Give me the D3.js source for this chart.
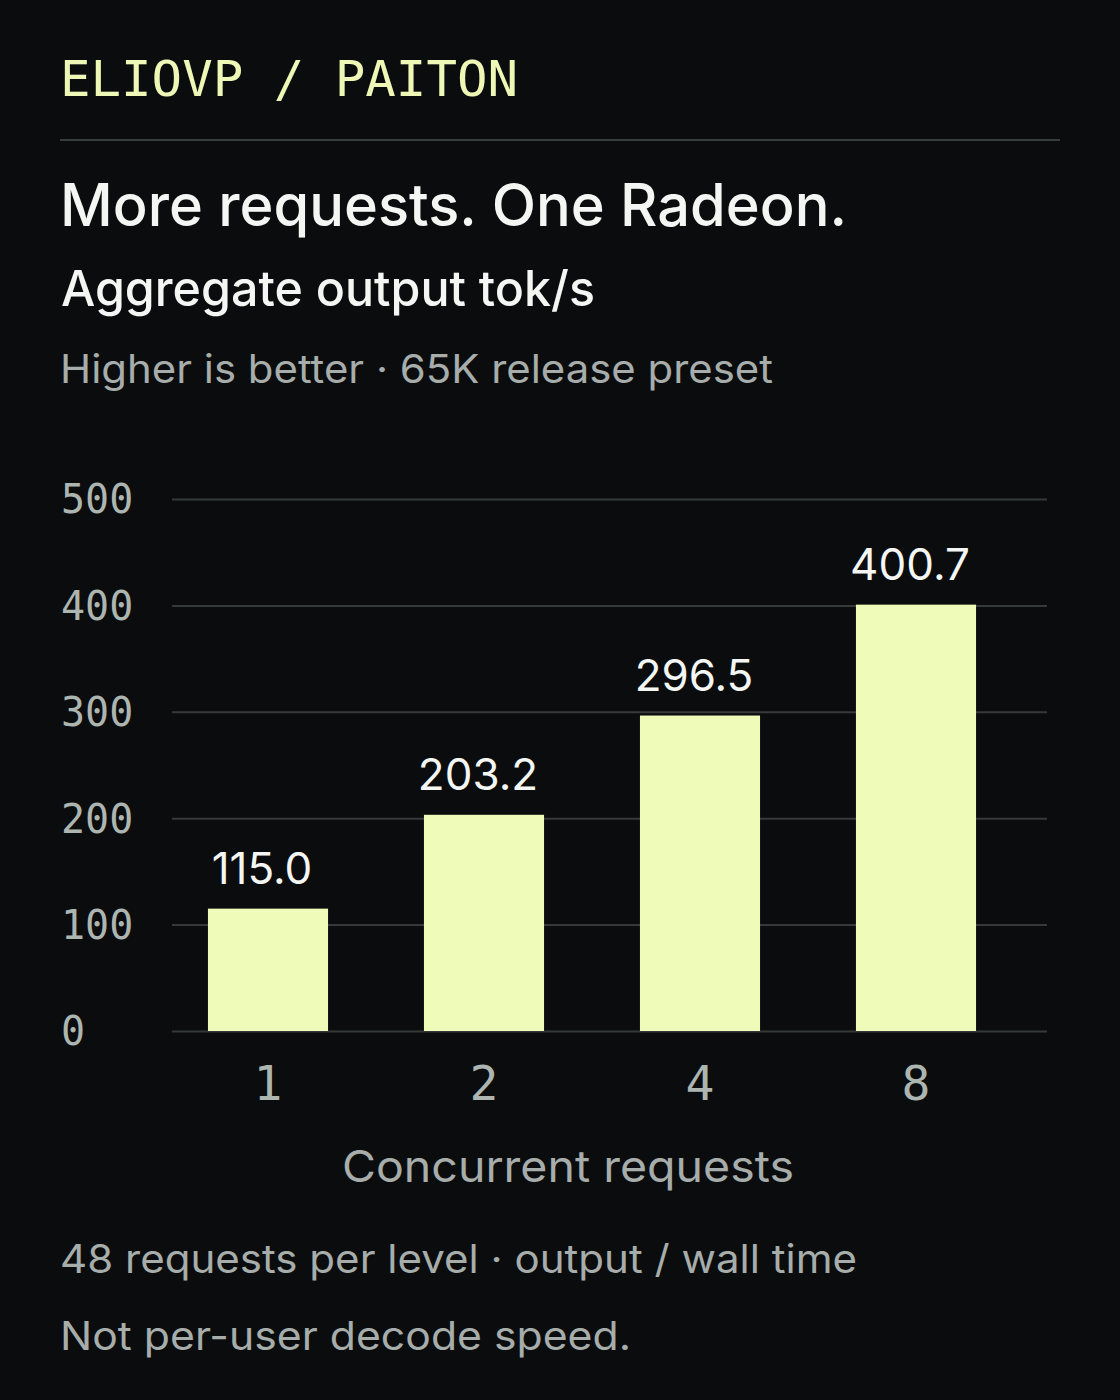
<!DOCTYPE html>
<html>
  <head>
    <meta charset="UTF-8" />
    <style>
      html,
      body {
        margin: 0;
        padding: 0;
        background-color: #0b0c0e;
      }
      svg {
        display: block;
      }
      .mono {
        font-family: "DejaVu Sans Mono", "Liberation Mono", monospace;
      }
      .sans {
        font-family: Inter, "Noto Sans", sans-serif;
      }
    </style>
  </head>

  <body>
    <svg id="chart"></svg>

    <script src="https://d3js.org/d3.v7.min.js"></script>
    <script>
      // data
      const categories = ["1", "2", "4", "8"];
      const values = [115.0, 203.2, 296.5, 400.7];
      const yTicks = [0, 100, 200, 300, 400, 500];

      const brand = "ELIOVP / PAITON";
      const title = "More requests. One Radeon.";
      const subtitle = "Aggregate output tok/s";
      const note = "Higher is better \u00b7 65K release preset";
      const xTitle = "Concurrent requests";
      const footnotes = [
        "48 requests per level \u00b7 output / wall time",
        "Not per-user decode speed.",
      ];

      const W = 1120;
      const H = 1400;

      const svg = d3
        .select("#chart")
        .attr("width", W)
        .attr("height", H)
        .attr("viewBox", "0 0 " + W + " " + H);

      svg.append("rect").attr("width", W).attr("height", H).attr("fill", "#0b0c0e");

      // helper: squeeze/stretch text to the width seen in the picture
      function fitText(sel, width) {
        sel.attr("textLength", width).attr("lengthAdjust", "spacingAndGlyphs");
        return sel;
      }

      // header
      fitText(
        svg
          .append("text")
          .attr("class", "mono")
          .attr("x", 60)
          .attr("y", 96)
          .attr("font-size", 50)
          .attr("fill", "#eef7b6")
          .text(brand),
        458
      );

      svg
        .append("line")
        .attr("x1", 60)
        .attr("x2", 1060)
        .attr("y1", 140)
        .attr("y2", 140)
        .attr("stroke", "#373d3e")
        .attr("stroke-width", 2);

      fitText(
        svg
          .append("text")
          .attr("class", "sans")
          .attr("x", 60)
          .attr("y", 226)
          .attr("font-size", 59)
          .attr("font-weight", 500)
          .attr("fill", "#f4f6f4")
          .text(title),
        787
      );

      fitText(
        svg
          .append("text")
          .attr("class", "sans")
          .attr("x", 61)
          .attr("y", 306)
          .attr("font-size", 49)
          .attr("font-weight", 500)
          .attr("fill", "#f4f6f4")
          .text(subtitle),
        534
      );

      fitText(
        svg
          .append("text")
          .attr("class", "sans")
          .attr("x", 60)
          .attr("y", 383)
          .attr("font-size", 39)
          .attr("fill", "#a6adaa")
          .text(note),
        713
      );

      // plot area
      const plotLeft = 172;
      const plotRight = 1047;
      const plotTop = 499;
      const plotBottom = 1031;

      const yScale = d3.scaleLinear().domain([0, 500]).range([plotBottom, plotTop]);

      const xScale = d3
        .scaleBand()
        .domain(categories)
        .range([160, 1024])
        .paddingInner(0.444)
        .paddingOuter(0.222);

      // grid lines
      svg
        .append("g")
        .attr("transform", `translate(${plotLeft}, 0)`)
        .call(
          d3
            .axisLeft(yScale)
            .tickValues(yTicks)
            .tickSize(-(plotRight - plotLeft))
            .tickFormat("")
        )
        .call((g) => g.select(".domain").remove())
        .call((g) =>
          g.selectAll("line").attr("stroke", "#343a3b").attr("stroke-width", 2)
        );

      // y tick labels
      svg
        .append("g")
        .selectAll("text")
        .data(yTicks)
        .enter()
        .append("text")
        .attr("class", "mono")
        .attr("x", 61)
        .attr("y", (d) => yScale(d))
        .attr("dy", "0.36em")
        .attr("font-size", 40)
        .attr("fill", "#adb5b1")
        .text((d) => d);

      // bars
      svg
        .append("g")
        .selectAll("rect")
        .data(values)
        .enter()
        .append("rect")
        .attr("x", (d, i) => xScale(categories[i]))
        .attr("y", (d) => yScale(d))
        .attr("width", xScale.bandwidth())
        .attr("height", (d) => yScale(0) - yScale(d))
        .attr("fill", "#eefbb9");

      // value labels
      svg
        .append("g")
        .selectAll("text")
        .data(values)
        .enter()
        .append("text")
        .attr("class", "sans")
        .attr("x", (d, i) => xScale(categories[i]) + xScale.bandwidth() / 2 - 6)
        .attr("y", (d) => yScale(d) - 25)
        .attr("text-anchor", "middle")
        .attr("font-size", 44)
        .attr("font-weight", 400)
        .attr("fill", "#f4f6f4")
        .text((d) => d.toFixed(1));

      // x tick labels
      svg
        .append("g")
        .selectAll("text")
        .data(categories)
        .enter()
        .append("text")
        .attr("class", "mono")
        .attr("x", (d) => xScale(d) + xScale.bandwidth() / 2)
        .attr("y", 1100)
        .attr("text-anchor", "middle")
        .attr("font-size", 48)
        .attr("fill", "#adb5b1")
        .text((d) => d);

      fitText(
        svg
          .append("text")
          .attr("class", "sans")
          .attr("x", 342)
          .attr("y", 1182)
          .attr("font-size", 44)
          .attr("fill", "#a6adaa")
          .text(xTitle),
        452
      );

      // footnotes
      const footWidths = [797, 571];
      svg
        .append("g")
        .selectAll("text")
        .data(footnotes)
        .enter()
        .append("text")
        .attr("class", "sans")
        .attr("x", 60)
        .attr("y", (d, i) => 1273 + i * 77)
        .attr("font-size", 39)
        .attr("fill", "#a6adaa")
        .attr("textLength", (d, i) => footWidths[i])
        .attr("lengthAdjust", "spacingAndGlyphs")
        .text((d) => d);
    </script>
  </body>
</html>
